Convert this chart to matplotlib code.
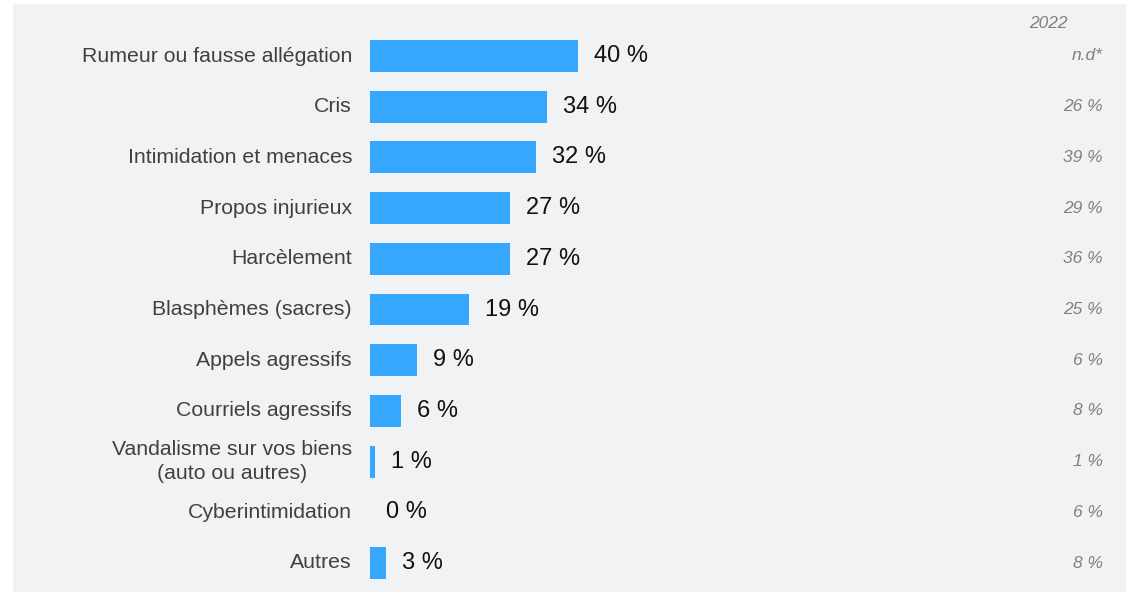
import matplotlib.pyplot as plt
from matplotlib.patches import Rectangle

categories = ["Rumeur ou fausse allégation", "Cris", "Intimidation et menaces",
              "Propos injurieux", "Harcèlement", "Blasphèmes (sacres)",
              "Appels agressifs", "Courriels agressifs",
              "Vandalisme sur vos biens\n(auto ou autres)", "Cyberintimidation", "Autres"]
values_2023 = [40, 34, 32, 27, 27, 19, 9, 6, 1, 0, 3]
labels_2022 = ["n.d*", "26 %", "39 %", "29 %", "36 %", "25 %", "6 %", "8 %", "1 %", "6 %", "8 %"]

W, H = 1130, 596
px_per_pct = 5.2
fig = plt.figure(figsize=(W / 100, H / 100), dpi=100)
fig.patch.set_facecolor("white")
plt.rcParams['font.family'] = ['Liberation Sans', 'DejaVu Sans']

# fond gris
fig.add_artist(Rectangle((13 / W, 4 / H), (1126 - 13) / W, (592 - 4) / H,
                         transform=fig.transFigure, facecolor="#f1f2f4",
                         edgecolor="none", zorder=-10))

ax = fig.add_axes([370 / W, 0, (W - 370) / W, 1])
ax.set_zorder(5)
ax.set_facecolor("none")
ax.set_xlim(0, (W - 370) / px_per_pct)
row_h = 50.7
top = 56
ax.set_ylim(10 + (H - top - 10 * row_h) / row_h, -top / row_h)
ax.axis("off")

ys = list(range(len(categories)))
ax.barh(ys, values_2023, height=0.63, color="#35a7ff")

for y, cat, v, l22 in zip(ys, categories, values_2023, labels_2022):
    ax.text(-18 / px_per_pct, y, cat, ha="right", va="center", fontsize=15.3,
            color="#404040", multialignment="center", linespacing=1.35,
            clip_on=False)
    ax.text(v + 16 / px_per_pct, y, f"{v} %", ha="left", va="center",
            fontsize=17, color="#111111")
    ax.text((1103 - 370) / px_per_pct, y, l22, ha="right", va="center",
            fontsize=12.5, color="#808080", style="italic")

ax.text((1048 - 370) / px_per_pct, -33 / row_h, "2022", ha="center", va="center",
        fontsize=12.5, color="#808080", style="italic")

fig.savefig("out.png", dpi=100, facecolor="white")
